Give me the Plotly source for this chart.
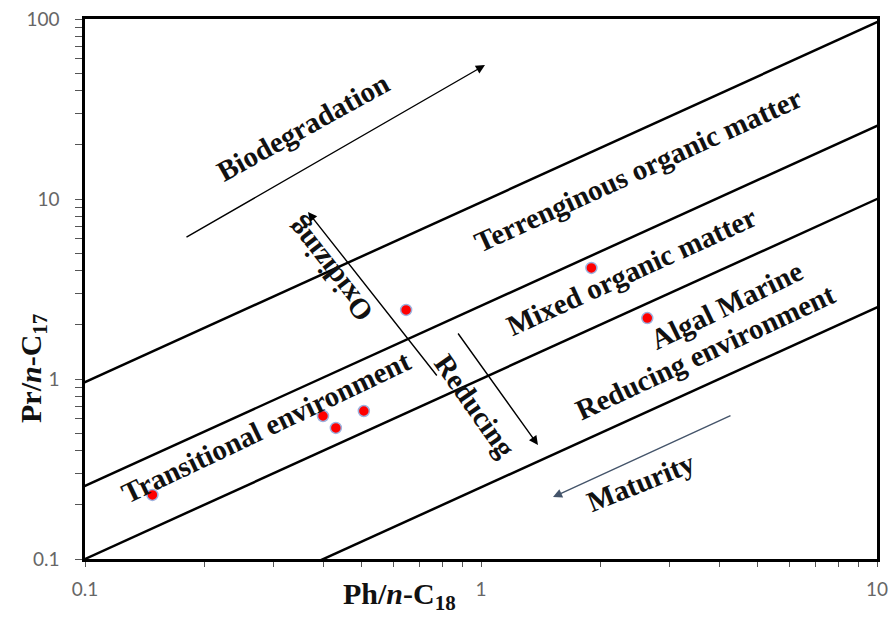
import plotly.graph_objects as go

# ---- data ----
ph_values = [0.148, 0.647, 0.399, 0.43, 0.506, 1.90, 2.63]   # Ph/n-C18
pr_values = [0.227, 2.42, 0.623, 0.535, 0.664, 4.14, 2.18]   # Pr/n-C17
boundary_ratios = [9.6, 2.55, 1.0, 0.25]                     # Pr/n-C17 = k * Ph/n-C18
line_x = [0.01, 100]

x_tickvals = [v * d for d in [0.1, 1] for v in range(1, 10)] + [10]
x_ticktext = ["0.1" if v == 0.1 else "1" if v == 1 else "10" if v == 10 else "" for v in x_tickvals]
y_tickvals = [v * d for d in [0.1, 1, 10] for v in range(1, 10)] + [100]
y_ticktext = [{0.1: "0.1", 1: "1", 10: "10", 100: "100"}.get(round(v, 6), "") for v in y_tickvals]

# zone labels: (text, log10 x, log10 y, angle)
zone_labels = [
    ("Biodegradation", -0.4495, 1.40, -29),
    ("Terrenginous organic matter", 0.3965, 1.161, -24.5),
    ("Mixed organic matter", 0.381, 0.60, -24.5),
    ("Algal Marine", 0.621, 0.411, -26),
    ("Reducing environment", 0.566, 0.15, -25),
    ("Transitional environment", -0.543, -0.265, -25.5),
    ("Oxidizing", -0.384, 0.606, -128),
    ("Reducing", -0.015, -0.15, 55),
    ("Maturity", 0.404, -0.57, -22),
]
# arrows: (tail lx, tail ly, head lx, head ly, color)
arrows = [
    (-0.7475, 0.783, 0.0101, 1.744, "black"),
    (-0.1086, 0.011, -0.4369, 0.928, "black"),
    (-0.0606, 0.261, 0.1439, -0.367, "black"),
    (0.6338, -0.20, 0.1818, -0.656, "#44546A"),
]

fig = go.Figure()
for k in boundary_ratios:
    fig.add_trace(go.Scatter(x=line_x, y=[k * v for v in line_x], mode="lines",
                             line=dict(color="black", width=2.5), showlegend=False,
                             hoverinfo="skip"))
fig.add_trace(go.Scatter(x=ph_values, y=pr_values, mode="markers",
                         marker=dict(color="#FF0000", size=11,
                                     line=dict(color="#9DB3E0", width=1.5)),
                         showlegend=False))

serif = "Liberation Serif, Times New Roman, serif"
for text, lx, ly, ang in zone_labels:
    fig.add_annotation(x=lx, y=ly, xref="x", yref="y", text=f"<b>{text}</b>",
                       textangle=ang, showarrow=False,
                       font=dict(family=serif, size=29, color="#111"))
for tx, ty, hx, hy, col in arrows:
    fig.add_annotation(x=hx, y=hy, ax=tx, ay=ty, xref="x", yref="y", axref="x", ayref="y",
                       text="", showarrow=True, arrowhead=2, arrowsize=1.3,
                       arrowwidth=1.4, arrowcolor=col)

fig.add_annotation(x=(399 - 85) / 792, y=-(596 - 559) / 540, xref="paper", yref="paper",
                   xanchor="center", yanchor="middle",
                   text="<b>Ph/<i>n</i>-C<sub>18</sub></b>", showarrow=False,
                   font=dict(family=serif, size=30, color="#111"))
fig.add_annotation(x=-(85 - 33) / 792, y=(559 - 368) / 540, xref="paper", yref="paper",
                   xanchor="center", yanchor="middle",
                   text="<b>Pr/<i>n</i>-C<sub>17</sub></b>", showarrow=False, textangle=-90,
                   font=dict(family=serif, size=30, color="#111"))

axis_common = dict(showgrid=False, zeroline=False, showline=True, linecolor="black",
                   linewidth=2.5, mirror=True, ticks="outside", tickcolor="#555",
                   automargin=False,
                   tickfont=dict(family="Lato, Carlito, sans-serif", size=19, color="#666"))
fig.update_xaxes(type="log", range=[-1, 1], tickmode="array", tickvals=x_tickvals,
                 ticktext=x_ticktext, ticklen=5, ticklabelstandoff=6, **axis_common)
fig.update_yaxes(type="log", range=[-1, 2], tickmode="array", tickvals=y_tickvals,
                 ticktext=y_ticktext, ticklen=7, ticklabelstandoff=12, **axis_common)
fig.update_layout(width=893, height=618, margin=dict(l=85, r=16, t=19, b=59),
                  paper_bgcolor="white", plot_bgcolor="white")
fig.write_html("out.html")
